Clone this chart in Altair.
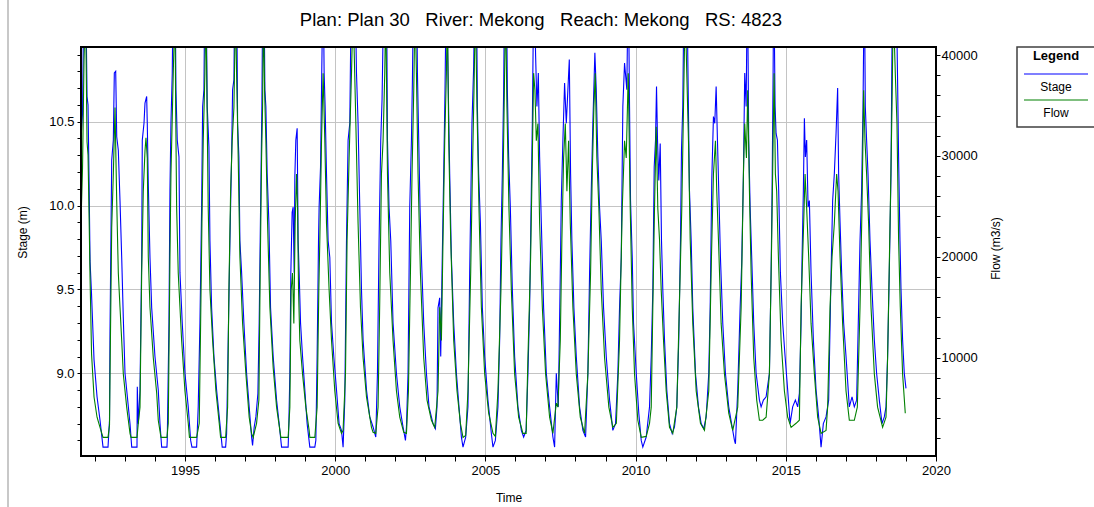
import altair as alt
import pandas as pd

TITLE = "Plan: Plan 30\u00a0\u00a0\u00a0River: Mekong\u00a0\u00a0\u00a0Reach: Mekong\u00a0\u00a0\u00a0RS: 4823"
SERIES = ["Stage", "Flow"]
COLORS = ["#0000ff", "#008000"]
X_TITLE = "Time"
STAGE_TITLE = "Stage (m)"
FLOW_TITLE = "Flow (m3/s)"

X_TICKS = list(range(1992, 2021))
STAGE_TICKS = [8.6, 8.7, 8.8, 8.9, 9.0, 9.1, 9.2, 9.3, 9.4, 9.5, 9.6, 9.7, 9.8, 9.9,
               10.0, 10.1, 10.2, 10.3, 10.4, 10.5, 10.6, 10.7, 10.8, 10.9]
FLOW_TICKS = list(range(2000, 40001, 2000))

X_DOMAIN = [1991.54, 2020.0]
STAGE_DOMAIN = [8.507, 10.945]
FLOW_DOMAIN = [258, 40793]

# ---- Stage (m) ----
STAGE_T = (
    [1991.541, 1991.591, 1991.641, 1991.691, 1991.741, 1991.774, 1991.807, 1991.841, 1991.891, 1991.974, 1992.074, 1992.173, 1992.273, 1992.439]
    + [1992.489, 1992.506, 1992.562, 1992.616, 1992.649, 1992.695, 1992.729, 1992.782, 1992.838, 1992.895, 1992.948, 1993.005, 1993.061, 1993.171, 1993.228, 1993.404]
    + [1993.414, 1993.447, 1993.504, 1993.560, 1993.580, 1993.637, 1993.670, 1993.726, 1993.746, 1993.780, 1993.836, 1993.893, 1994.002, 1994.112, 1994.169, 1994.225, 1994.401]
    + [1994.411, 1994.468, 1994.501, 1994.534, 1994.578, 1994.611, 1994.668, 1994.701, 1994.744, 1994.801, 1994.834, 1994.910, 1995.000, 1995.110, 1995.190, 1995.233, 1995.389]
    + [1995.442, 1995.499, 1995.555, 1995.589, 1995.632, 1995.665, 1995.698, 1995.742, 1995.798, 1995.832, 1995.888, 1995.965, 1996.054, 1996.164, 1996.240, 1996.354]
    + [1996.387, 1996.440, 1996.497, 1996.553, 1996.586, 1996.630, 1996.663, 1996.719, 1996.753, 1996.796, 1996.829, 1996.886, 1996.962, 1997.052, 1997.138, 1997.218, 1997.251]
    + [1997.305, 1997.361, 1997.428, 1997.471, 1997.518, 1997.561, 1997.594, 1997.627, 1997.661, 1997.694, 1997.737, 1997.794, 1997.850, 1997.937, 1998.050, 1998.136, 1998.216, 1998.435]
    + [1998.459, 1998.492, 1998.525, 1998.568, 1998.602, 1998.635, 1998.658, 1998.691, 1998.735, 1998.768, 1998.801, 1998.848, 1998.914, 1998.991, 1999.067, 1999.157, 1999.323]
    + [1999.357, 1999.400, 1999.446, 1999.466, 1999.513, 1999.546, 1999.599, 1999.633, 1999.666, 1999.712, 1999.766, 1999.822, 1999.879, 1999.955, 2000.045, 2000.131, 2000.211, 2000.264]
    + [2000.321, 2000.377, 2000.431, 2000.487, 2000.544, 2000.654, 2000.710, 2000.763, 2000.820, 2000.876, 2000.930, 2001.043, 2001.152, 2001.262, 2001.352]
    + [2001.408, 2001.462, 2001.518, 2001.561, 2001.628, 2001.708, 2001.741, 2001.794, 2001.851, 2001.927, 2002.040, 2002.150, 2002.260, 2002.340]
    + [2002.373, 2002.426, 2002.483, 2002.539, 2002.572, 2002.616, 2002.705, 2002.739, 2002.782, 2002.825, 2002.872, 2002.948, 2003.038, 2003.124, 2003.257, 2003.337]
    + [2003.390, 2003.424, 2003.480, 2003.514, 2003.557, 2003.613, 2003.657, 2003.703, 2003.756, 2003.813, 2003.869, 2003.946, 2004.036, 2004.122, 2004.202, 2004.255, 2004.345]
    + [2004.421, 2004.478, 2004.511, 2004.554, 2004.611, 2004.654, 2004.701, 2004.734, 2004.777, 2004.834, 2004.900, 2004.977, 2005.086, 2005.200, 2005.253, 2005.333]
    + [2005.419, 2005.476, 2005.519, 2005.565, 2005.609, 2005.642, 2005.698, 2005.732, 2005.775, 2005.831, 2005.898, 2005.974, 2006.084, 2006.197, 2006.274, 2006.357]
    + [2006.417, 2006.473, 2006.530, 2006.563, 2006.616, 2006.673, 2006.716, 2006.763, 2006.806, 2006.862, 2006.939, 2007.029, 2007.138, 2007.248, 2007.305]
    + [2007.361, 2007.428, 2007.494, 2007.527, 2007.581, 2007.637, 2007.694, 2007.747, 2007.794, 2007.837, 2007.880, 2007.947, 2008.026, 2008.136, 2008.246, 2008.336]
    + [2008.412, 2008.469, 2008.525, 2008.578, 2008.645, 2008.691, 2008.745, 2008.801, 2008.858, 2008.934, 2009.024, 2009.134, 2009.243, 2009.333]
    + [2009.410, 2009.466, 2009.523, 2009.576, 2009.633, 2009.709, 2009.756, 2009.799, 2009.832, 2009.889, 2009.932, 2010.022, 2010.108, 2010.188, 2010.241, 2010.354]
    + [2010.464, 2010.521, 2010.574, 2010.620, 2010.664, 2010.697, 2010.730, 2010.773, 2010.820, 2010.863, 2010.906, 2010.963, 2011.039, 2011.129, 2011.219, 2011.295]
    + [2011.372, 2011.438, 2011.495, 2011.528, 2011.571, 2011.618, 2011.704, 2011.751, 2011.794, 2011.851, 2011.904, 2011.994, 2012.093, 2012.183, 2012.270, 2012.350]
    + [2012.436, 2012.483, 2012.536, 2012.592, 2012.636, 2012.682, 2012.725, 2012.769, 2012.825, 2012.902, 2012.991, 2013.101, 2013.214, 2013.291, 2013.324]
    + [2013.400, 2013.480, 2013.533, 2013.590, 2013.633, 2013.680, 2013.723, 2013.766, 2013.813, 2013.866, 2013.933, 2014.012, 2014.122, 2014.179, 2014.255, 2014.345]
    + [2014.455, 2014.511, 2014.544, 2014.578, 2014.598, 2014.644, 2014.677, 2014.721, 2014.764, 2014.820, 2014.897, 2014.977, 2015.063, 2015.143, 2015.229, 2015.319, 2015.396, 2015.452]
    + [2015.509, 2015.542, 2015.585, 2015.619, 2015.652, 2015.695, 2015.742, 2015.785, 2015.841, 2015.918, 2016.008, 2016.094, 2016.174, 2016.250]
    + [2016.340, 2016.427, 2016.507, 2016.560, 2016.616, 2016.673, 2016.726, 2016.759, 2016.806, 2016.859, 2016.926, 2017.005, 2017.115, 2017.205, 2017.281, 2017.358]
    + [2017.424, 2017.471, 2017.524, 2017.571, 2017.614, 2017.647, 2017.690, 2017.737, 2017.804, 2017.870, 2017.947, 2018.023, 2018.113, 2018.203, 2018.279, 2018.336]
    + [2018.389, 2018.445, 2018.502, 2018.555, 2018.668, 2018.721, 2018.755, 2018.801, 2018.834, 2018.888, 2018.944, 2019.001]
)
STAGE_M = (
    [10.40, 10.55, 11.4, 11.4, 10.65, 10.60, 10.17, 9.67, 9.47, 9.08, 8.86, 8.72, 8.56, 8.56]
    + [8.72, 9.26, 10.27, 10.39, 10.79, 10.80, 10.41, 10.33, 10.03, 9.69, 9.33, 9.00, 8.90, 8.70, 8.56, 8.56]
    + [8.92, 8.70, 8.90, 9.69, 10.39, 10.49, 10.61, 10.65, 10.49, 10.13, 9.69, 9.39, 9.10, 8.90, 8.70, 8.56, 8.56]
    + [8.60, 9.30, 10.09, 10.49, 10.79, 11.4, 11.4, 10.69, 10.39, 10.29, 9.60, 9.30, 9.00, 8.80, 8.60, 8.56, 8.56]
    + [8.80, 9.30, 9.99, 10.59, 10.69, 11.4, 11.4, 10.59, 10.35, 9.79, 9.39, 9.10, 8.90, 8.70, 8.56, 8.56]
    + [8.64, 9.20, 9.79, 10.29, 10.69, 10.75, 11.4, 11.4, 10.49, 10.29, 9.79, 9.60, 9.30, 9.00, 8.80, 8.62, 8.57]
    + [8.68, 8.74, 8.88, 9.30, 9.99, 10.59, 11.4, 11.4, 10.69, 10.59, 10.19, 9.90, 9.39, 9.10, 8.84, 8.70, 8.56, 8.56]
    + [8.70, 9.00, 9.60, 9.96, 9.99, 9.60, 10.17, 10.39, 10.46, 9.79, 9.60, 9.30, 9.10, 8.90, 8.70, 8.56, 8.56]
    + [8.60, 9.10, 9.79, 9.99, 10.23, 10.69, 11.4, 10.79, 10.59, 10.19, 9.79, 9.69, 9.30, 9.10, 8.90, 8.70, 8.66, 8.56]
    + [8.84, 9.79, 10.39, 10.49, 11.4, 11.4, 10.79, 10.49, 9.99, 9.50, 9.20, 8.90, 8.74, 8.68, 8.62]
    + [9.00, 9.79, 10.39, 10.63, 11.4, 11.4, 10.39, 9.99, 9.79, 9.30, 9.00, 8.80, 8.68, 8.60]
    + [8.68, 9.00, 9.99, 10.39, 10.75, 11.4, 11.4, 10.79, 10.39, 9.99, 9.69, 9.30, 9.00, 8.80, 8.70, 8.67]
    + [8.80, 9.39, 9.45, 9.10, 9.60, 10.19, 10.69, 11.4, 10.79, 10.19, 9.69, 9.30, 9.00, 8.80, 8.62, 8.56, 8.62]
    + [8.80, 9.60, 9.99, 10.49, 10.83, 11.4, 11.4, 10.59, 10.19, 9.90, 9.39, 9.10, 8.84, 8.64, 8.56, 8.60]
    + [8.80, 9.20, 9.79, 10.19, 10.69, 11.4, 11.4, 10.69, 10.29, 9.99, 9.50, 9.10, 8.80, 8.66, 8.62, 8.66]
    + [9.00, 9.39, 10.09, 10.49, 11.4, 10.89, 10.59, 10.79, 10.29, 9.90, 9.39, 9.00, 8.80, 8.62, 8.56]
    + [9.00, 8.80, 9.60, 10.03, 10.39, 10.73, 10.49, 10.69, 10.87, 10.19, 9.79, 9.39, 9.10, 8.80, 8.66, 8.62]
    + [9.00, 9.60, 10.09, 10.49, 10.91, 10.69, 10.29, 9.99, 9.79, 9.39, 9.10, 8.84, 8.66, 8.70]
    + [9.00, 9.39, 9.69, 10.59, 10.85, 10.69, 11.4, 10.59, 10.03, 9.69, 9.30, 9.00, 8.76, 8.60, 8.56, 8.62]
    + [8.80, 9.10, 9.50, 10.23, 10.39, 10.71, 10.39, 10.15, 10.37, 9.79, 9.50, 9.20, 8.90, 8.70, 8.64, 8.68]
    + [8.80, 9.20, 9.79, 10.33, 10.59, 11.4, 11.4, 10.69, 10.09, 9.79, 9.39, 9.00, 8.80, 8.70, 8.67, 8.74]
    + [9.00, 9.39, 10.15, 10.53, 10.49, 10.71, 10.39, 10.09, 9.69, 9.30, 9.00, 8.80, 8.68, 8.60, 8.58]
    + [8.90, 9.39, 9.66, 10.19, 10.79, 10.59, 11.4, 10.39, 9.99, 9.69, 9.30, 9.00, 8.84, 8.80, 8.84, 8.86]
    + [9.00, 9.60, 10.09, 10.79, 11.4, 10.59, 10.43, 10.39, 10.09, 9.60, 9.30, 9.10, 8.90, 8.70, 8.80, 8.84, 8.80, 8.88]
    + [9.30, 9.69, 10.09, 10.52, 10.29, 10.39, 9.99, 10.03, 9.60, 9.20, 8.90, 8.74, 8.56, 8.70]
    + [8.74, 8.84, 9.60, 10.03, 10.19, 10.43, 10.70, 10.19, 9.90, 9.60, 9.30, 9.10, 8.80, 8.86, 8.80, 8.84]
    + [9.39, 9.79, 10.09, 10.59, 11.4, 10.59, 10.39, 10.19, 9.79, 9.50, 9.20, 9.00, 8.84, 8.70, 8.74, 8.80]
    + [9.10, 9.60, 10.19, 11.4, 11.4, 10.75, 10.29, 9.79, 9.51, 9.20, 9.00, 8.91]
)

# ---- Flow (m3/s) ----
FLOW_T = (
    [1991.541, 1991.591, 1991.641, 1991.691, 1991.741, 1991.774, 1991.807, 1991.841, 1991.891, 1991.974, 1992.074, 1992.173, 1992.273, 1992.439]
    + [1992.489, 1992.506, 1992.562, 1992.616, 1992.672, 1992.729, 1992.782, 1992.838, 1992.895, 1992.948, 1993.061, 1993.171, 1993.204, 1993.404]
    + [1993.447, 1993.504, 1993.560, 1993.613, 1993.670, 1993.703, 1993.746, 1993.780, 1993.836, 1993.946, 1994.059, 1994.112, 1994.202, 1994.401]
    + [1994.445, 1994.501, 1994.534, 1994.578, 1994.611, 1994.668, 1994.691, 1994.724, 1994.777, 1994.890, 1995.000, 1995.110, 1995.150, 1995.389]
    + [1995.476, 1995.522, 1995.565, 1995.609, 1995.665, 1995.698, 1995.742, 1995.775, 1995.832, 1995.921, 1996.031, 1996.141, 1996.187, 1996.354]
    + [1996.420, 1996.463, 1996.520, 1996.573, 1996.630, 1996.686, 1996.719, 1996.773, 1996.829, 1996.919, 1997.029, 1997.138, 1997.218, 1997.271]
    + [1997.384, 1997.461, 1997.504, 1997.551, 1997.584, 1997.617, 1997.651, 1997.694, 1997.750, 1997.827, 1997.937, 1998.050, 1998.159, 1998.193, 1998.435]
    + [1998.492, 1998.535, 1998.582, 1998.625, 1998.668, 1998.715, 1998.748, 1998.781, 1998.824, 1998.914, 1999.024, 1999.134, 1999.157, 1999.323]
    + [1999.400, 1999.456, 1999.490, 1999.546, 1999.599, 1999.656, 1999.712, 1999.799, 1999.879, 1999.988, 2000.098, 2000.211, 2000.264]
    + [2000.344, 2000.397, 2000.464, 2000.544, 2000.597, 2000.677, 2000.763, 2000.843, 2000.930, 2001.043, 2001.209, 2001.262]
    + [2001.352, 2001.428, 2001.485, 2001.541, 2001.595, 2001.651, 2001.684, 2001.741, 2001.818, 2001.927, 2002.040, 2002.150, 2002.283]
    + [2002.373, 2002.439, 2002.506, 2002.559, 2002.616, 2002.659, 2002.705, 2002.759, 2002.838, 2002.948, 2003.058, 2003.204, 2003.314]
    + [2003.424, 2003.480, 2003.537, 2003.590, 2003.647, 2003.703, 2003.736, 2003.780, 2003.846, 2003.946, 2004.056, 2004.169, 2004.255, 2004.345]
    + [2004.421, 2004.511, 2004.568, 2004.621, 2004.668, 2004.721, 2004.787, 2004.867, 2004.977, 2005.110, 2005.253, 2005.333]
    + [2005.419, 2005.519, 2005.585, 2005.632, 2005.675, 2005.718, 2005.785, 2005.865, 2005.974, 2006.107, 2006.250, 2006.357]
    + [2006.417, 2006.507, 2006.563, 2006.606, 2006.650, 2006.696, 2006.749, 2006.806, 2006.896, 2007.005, 2007.138, 2007.248]
    + [2007.361, 2007.414, 2007.494, 2007.547, 2007.604, 2007.661, 2007.714, 2007.770, 2007.827, 2007.913, 2008.026, 2008.159, 2008.302]
    + [2008.412, 2008.502, 2008.558, 2008.612, 2008.658, 2008.711, 2008.778, 2008.858, 2008.968, 2009.110, 2009.243]
    + [2009.360, 2009.466, 2009.556, 2009.633, 2009.689, 2009.756, 2009.822, 2009.889, 2009.965, 2010.075, 2010.188]
    + [2010.354, 2010.464, 2010.521, 2010.574, 2010.630, 2010.687, 2010.740, 2010.797, 2010.853, 2010.930, 2011.019, 2011.129, 2011.239]
    + [2011.372, 2011.485, 2011.538, 2011.595, 2011.651, 2011.704, 2011.761, 2011.818, 2011.904, 2012.017, 2012.160, 2012.293]
    + [2012.436, 2012.526, 2012.592, 2012.659, 2012.702, 2012.759, 2012.848, 2012.958, 2013.101, 2013.234]
    + [2013.400, 2013.514, 2013.590, 2013.633, 2013.690, 2013.733, 2013.790, 2013.846, 2013.933, 2014.032, 2014.122, 2014.232, 2014.345]
    + [2014.455, 2014.531, 2014.578, 2014.611, 2014.654, 2014.697, 2014.754, 2014.844, 2014.954, 2015.063, 2015.176, 2015.343, 2015.452]
    + [2015.509, 2015.595, 2015.642, 2015.695, 2015.762, 2015.841, 2015.951, 2016.061, 2016.174]
    + [2016.340, 2016.393, 2016.473, 2016.540, 2016.616, 2016.693, 2016.739, 2016.806, 2016.892, 2017.005, 2017.115, 2017.281]
    + [2017.381, 2017.471, 2017.537, 2017.591, 2017.637, 2017.690, 2017.757, 2017.837, 2017.947, 2018.056, 2018.223, 2018.336]
    + [2018.389, 2018.479, 2018.535, 2018.578, 2018.645, 2018.701, 2018.755, 2018.811, 2018.888, 2018.977]
)
FLOW_Q = (
    [23500, 28800, 39500, 45000, 31400, 30100, 24400, 18000, 10400, 6100, 4100, 3100, 2100, 2100]
    + [3300, 8400, 22900, 28200, 34800, 25500, 18400, 15000, 11700, 8400, 5100, 2500, 2100, 2100]
    + [3500, 5100, 18400, 26500, 30500, 31800, 29800, 20000, 15000, 10000, 6500, 3800, 2100, 2100]
    + [3500, 20000, 28200, 33800, 38200, 45000, 34800, 24800, 18400, 11700, 6700, 3500, 2100, 2100]
    + [3500, 13400, 23300, 31500, 38200, 45000, 33200, 24800, 16700, 11700, 6700, 3500, 2100, 2100]
    + [5100, 16700, 26500, 31500, 34800, 45000, 38200, 29800, 20000, 13400, 8400, 4100, 2500, 2100]
    + [3500, 5800, 18400, 29800, 34800, 45000, 36500, 31500, 23300, 15000, 9000, 5100, 2800, 2100, 2100]
    + [5100, 16700, 18400, 13400, 23300, 28200, 24800, 16700, 11700, 8400, 5100, 2800, 2100, 2100]
    + [5100, 16700, 21700, 31500, 38200, 31500, 23300, 16700, 11700, 6700, 3500, 2500, 2800]
    + [8400, 21700, 29800, 38200, 45000, 34800, 23300, 15000, 10000, 6100, 3100, 2600]
    + [2500, 5100, 15700, 28200, 31500, 38200, 45000, 28200, 18400, 11700, 6700, 4100, 2600]
    + [2500, 6700, 18400, 28200, 36500, 45000, 38200, 28200, 18400, 10000, 5800, 3800, 3100]
    + [6700, 15000, 11700, 21700, 31500, 38200, 45000, 31500, 21700, 11700, 6700, 3500, 2100, 2300]
    + [6700, 18400, 28200, 36500, 45000, 34800, 24800, 15000, 8400, 4500, 2500, 2200]
    + [6700, 16700, 26500, 36500, 45000, 34800, 24800, 16700, 8400, 4100, 2500, 2500]
    + [10000, 20000, 29800, 38200, 36500, 31500, 33200, 23300, 15000, 8400, 4100, 2500]
    + [5500, 5100, 11700, 21700, 29800, 33200, 26500, 31500, 23300, 15000, 8400, 4100, 2500]
    + [8400, 18400, 28200, 34800, 38200, 29800, 24800, 16700, 10000, 5100, 3100]
    + [3500, 11700, 24800, 31500, 29800, 38200, 24800, 15000, 8400, 3800, 2100]
    + [2200, 3500, 5100, 15000, 24800, 32900, 24800, 21700, 16700, 11700, 6700, 3100, 2500]
    + [5100, 18400, 24800, 34800, 45000, 38200, 31500, 21700, 13400, 6700, 3500, 2800]
    + [6700, 20000, 28200, 31500, 26500, 21700, 13400, 8400, 4500, 2800]
    + [5100, 15000, 28200, 33200, 29800, 36500, 26500, 18400, 10000, 5800, 3800, 3800, 4100]
    + [8400, 21700, 31500, 38200, 28200, 26500, 20000, 11700, 6700, 4100, 3100, 3500, 3800]
    + [15000, 23300, 28200, 24800, 20000, 13400, 8400, 4100, 2500]
    + [2800, 5100, 15000, 20000, 23300, 28200, 26500, 20000, 13400, 6700, 3800, 3800]
    + [5100, 15000, 24800, 36500, 31500, 28200, 23300, 15000, 8400, 5100, 3100, 4100]
    + [10000, 24800, 34800, 45000, 38200, 33200, 21700, 15000, 8400, 4500]
)

FONT = "Liberation Sans"

stage_df = pd.DataFrame({"t": STAGE_T, "v": STAGE_M})
flow_df = pd.DataFrame({"t": FLOW_T, "v": FLOW_Q})

x_scale = alt.Scale(domain=X_DOMAIN, nice=False, zero=False)


def make_x_axis():
    return alt.Axis(
        values=X_TICKS, format="d",
        labelExpr="datum.value % 5 === 0 ? datum.label : ''",
        labelOverlap=False, labelFlush=False, labelFont=FONT, labelFontSize=13,
        labelColor="black", labelPadding=3,
        tickSize=5, tickColor="black", tickWidth=1, domain=False,
        grid=True, gridColor="#c4c4c4", gridWidth=1,
        gridOpacity={"condition": {"test": "datum.value % 5 === 0", "value": 1}, "value": 0},
        title=X_TITLE, titleFont=FONT, titleFontSize=12, titleFontWeight="normal",
        titleColor="black", titleY=41, titleBaseline="middle",
    )


half_test = "abs(datum.value * 2 - round(datum.value * 2)) < 0.001"
stage_axis = alt.Axis(
    values=STAGE_TICKS, orient="left",
    labelExpr=half_test + " ? format(datum.value, '.1f') : ''",
    labelOverlap=False, labelFlush=False, labelFont=FONT, labelFontSize=13,
    labelColor="black", labelPadding=3,
    tickSize=4, tickColor="black", tickWidth=1, domain=False,
    grid=True, gridColor="#c4c4c4", gridWidth=1,
    gridOpacity={"condition": {"test": half_test, "value": 1}, "value": 0},
    title=STAGE_TITLE, titleFont=FONT, titleFontSize=12, titleFontWeight="normal",
    titleColor="black", titleAngle=270, titleX=-59, titleY=185,
    titleBaseline="middle", titleAlign="center",
)
flow_axis = alt.Axis(
    values=FLOW_TICKS, orient="right", format="d",
    labelExpr="datum.value % 10000 === 0 ? datum.label : ''",
    labelOverlap=False, labelFlush=False, labelFont=FONT, labelFontSize=13,
    labelColor="black", labelPadding=1,
    tickSize=4, tickColor="black", tickWidth=1, domain=False, grid=False,
    title=FLOW_TITLE, titleFont=FONT, titleFontSize=12, titleFontWeight="normal",
    titleColor="black", titleAngle=270, titleX=59, titleY=201,
    titleBaseline="middle", titleAlign="center",
)

stage_line = alt.Chart(stage_df).mark_line(color=COLORS[0], strokeWidth=1.1, clip=True).encode(
    x=alt.X("t:Q", scale=x_scale, axis=make_x_axis()),
    y=alt.Y("v:Q", scale=alt.Scale(domain=STAGE_DOMAIN, nice=False, zero=False), axis=stage_axis),
)
flow_line = alt.Chart(flow_df).mark_line(color=COLORS[1], strokeWidth=1.1, clip=True).encode(
    x=alt.X("t:Q", scale=x_scale, axis=make_x_axis()),
    y=alt.Y("v:Q", scale=alt.Scale(domain=FLOW_DOMAIN, nice=False, zero=False), axis=flow_axis),
)

one = pd.DataFrame({"k": [0]})

# frame around the plot area
frame = alt.Chart(one).mark_rect(fill=None, stroke="black", strokeWidth=2).encode(
    x=alt.value(0), x2=alt.value(855), y=alt.value(0), y2=alt.value(409)
)

# title drawn as text above the plot
title = alt.Chart(pd.DataFrame({"label": [TITLE]})).mark_text(
    font=FONT, fontSize=18.5, color="black", align="center", baseline="middle"
).encode(x=alt.value(460), y=alt.value(-27), text="label:N")

# legend box (drawn by hand, like the original)
legend_box = alt.Chart(one).mark_rect(fill="white", stroke="#404040", strokeWidth=1.5).encode(
    x=alt.value(936), x2=alt.value(1014), y=alt.value(0), y2=alt.value(80)
)
legend_head = alt.Chart(pd.DataFrame({"label": ["Legend"]})).mark_text(
    font=FONT, fontSize=13, fontWeight="bold", color="black", align="center", baseline="middle"
).encode(x=alt.value(975), y=alt.value(9), text="label:N")
legend_sym = []
legend_txt = []
for i, (name, col) in enumerate(zip(SERIES, COLORS)):
    legend_sym.append(
        alt.Chart(one).mark_rule(color=col, strokeWidth=1.2).encode(
            x=alt.value(943), x2=alt.value(1007), y=alt.value(27 + 26 * i)
        )
    )
    legend_txt.append(
        alt.Chart(pd.DataFrame({"label": [name]})).mark_text(
            font=FONT, fontSize=12, color="black", align="center", baseline="middle"
        ).encode(x=alt.value(975), y=alt.value(40 + 26 * i), text="label:N")
    )

edge = alt.Chart(one).mark_rule(color="#c8c8c8", strokeWidth=2).encode(
    x=alt.value(-73), y=alt.value(-47), y2=alt.value(460)
)

chart = alt.layer(
    stage_line, flow_line, frame, title, legend_box, legend_head,
    *legend_sym, *legend_txt, edge
).resolve_scale(y="independent").properties(
    width=855, height=409,
    autosize="none",
    padding={"left": 81, "top": 47, "right": 158, "bottom": 51},
).configure(background="white").configure_view(stroke=None)

chart.save("out.html", embed_options={"renderer": "svg", "actions": False})
